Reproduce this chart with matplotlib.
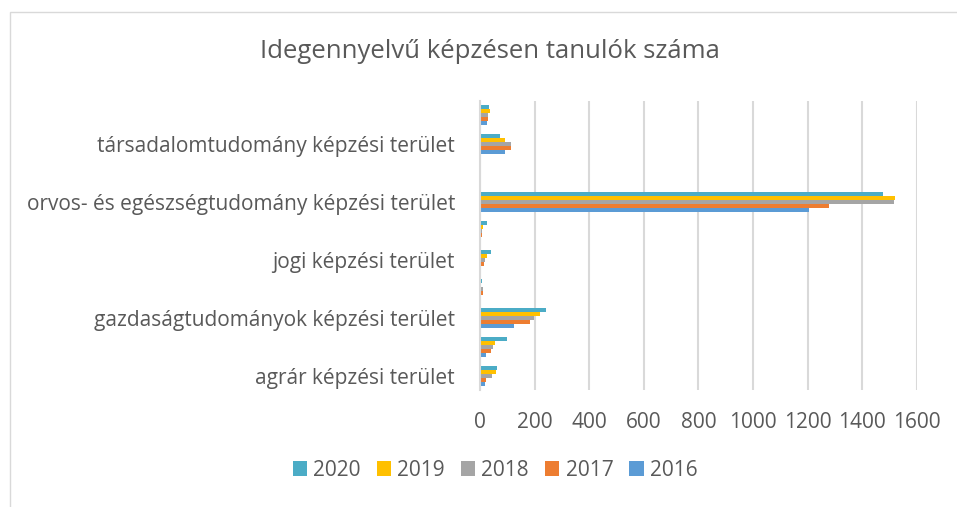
import numpy as np
import matplotlib.pyplot as plt
from matplotlib.patches import Rectangle

plt.rcParams['font.family'] = ['Open Sans', 'DejaVu Sans']

# categories bottom -> top; only every other one gets a visible label (like Excel)
categories = ['agrár képzési terület', 'bölcsészettudomány képzési terület',
              'gazdaságtudományok képzési terület', 'informatikai képzési terület',
              'jogi képzési terület', 'műszaki képzési terület',
              'orvos- és egészségtudomány képzési terület', 'pedagógusképzés képzési terület',
              'társadalomtudomány képzési terület', 'természettudomány képzési terület']
years = ['2020', '2019', '2018', '2017', '2016']
v2020 = [61, 98, 243, 7, 40, 26, 1475, 0, 72, 33]
v2019 = [59, 56, 219, 0, 26, 12, 1519, 0, 90, 35]
v2018 = [43, 46, 197, 11, 18, 7, 1514, 2, 113, 28]
v2017 = [23, 41, 183, 11, 15, 7, 1277, 0, 113, 28]
v2016 = [17, 22, 126, 3, 0, 1, 1203, 0, 92, 26]
series = [v2020, v2019, v2018, v2017, v2016]
colors = ['#4BACC6', '#FFC000', '#A5A5A5', '#ED7D31', '#5B9BD5']

txt = '#595959'
fig = plt.figure(figsize=(9.57, 5.07), dpi=100)
fig.patches.append(Rectangle((10 / 957, -0.1), 1.2, 1 - 12 / 507 + 0.1,
                             transform=fig.transFigure, fill=False,
                             edgecolor='#D9D9D9', linewidth=1))
ax = fig.add_axes([480 / 957, 1 - 390 / 507, 437 / 957, 289 / 507])

y = np.arange(len(categories))
h = 1 / (5 + 2.19)
for i, (yr, vals, c) in enumerate(zip(years, series, colors)):
    ax.barh(y + (2 - i) * h, vals, height=h, color=c, label=yr)

ax.set_xlim(0, 1600)
ax.set_ylim(-0.5, len(categories) - 0.5)
ax.set_xticks(np.arange(0, 1601, 200))
ax.set_yticks(y)
ax.set_yticklabels([c if i % 2 == 0 else '' for i, c in enumerate(categories)])
ax.tick_params(length=0, labelsize=15, colors=txt)
ax.tick_params(axis='y', pad=18)
ax.tick_params(axis='x', pad=16)
ax.grid(axis='x', color='#D9D9D9', linewidth=1.5)
ax.set_axisbelow(True)
for s in ['top', 'right', 'bottom']:
    ax.spines[s].set_visible(False)
ax.spines['left'].set_color('#D9D9D9')
ax.spines['left'].set_linewidth(1.5)

fig.text(490 / 957, 1 - 51 / 507, 'Idegennyelvű képzésen tanulók száma',
         ha='center', va='center', fontsize=18.5, color=txt)
fig.legend(loc='center', bbox_to_anchor=(495 / 957, 1 - 470 / 507), ncol=5,
           frameon=False, fontsize=15, labelcolor=txt, handlelength=0.7,
           handleheight=0.7, handletextpad=0.3, columnspacing=0.75)

fig.savefig('out.png', dpi=100)
